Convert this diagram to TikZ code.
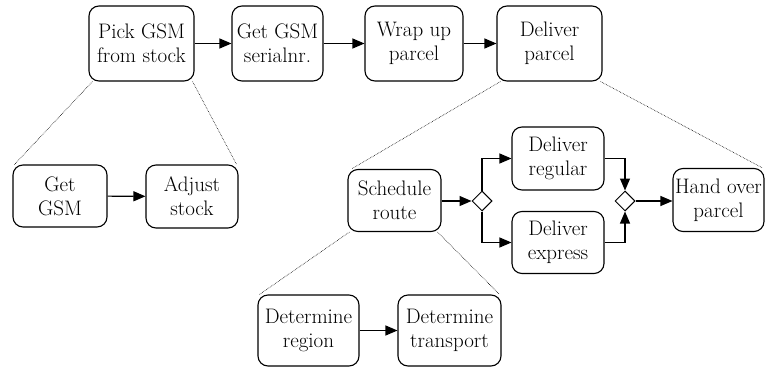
\documentclass[tikz,border=0pt]{standalone}
\usetikzlibrary{arrows.meta,shapes.geometric}
\begin{document}
\begin{tikzpicture}[x=1pt,y=-1pt,
  task/.style={draw,line width=1.1pt,rounded corners=10pt,align=center,inner sep=0pt,
    font=\rmfamily\fontsize{21}{24}\selectfont},
  gate/.style={draw,line width=1pt,diamond,minimum width=20pt,minimum height=20pt,inner sep=0pt},
  flow/.style={line width=1.1pt,-{Triangle[length=12pt,width=10pt]}},
  decomp/.style={line width=0.6pt,densely dotted}]
\useasboundingbox (0,0) rectangle (765,367);
\node[task,minimum width=105pt,minimum height=75pt] (pick) at (141.5,43.5) {Pick GSM\\from stock};
\node[task,minimum width=91pt,minimum height=75pt] (ser) at (277.5,43.5) {Get GSM\\serialnr.};
\node[task,minimum width=98pt,minimum height=75pt] (wrap) at (414,43.5) {Wrap up\\parcel};
\node[task,minimum width=105pt,minimum height=75pt] (del) at (549.5,43.5) {Deliver\\parcel};
\node[task,minimum width=94pt,minimum height=62pt] (get) at (60,196) {Get\\GSM};
\node[task,minimum width=92pt,minimum height=63pt] (adj) at (192,196.5) {Adjust\\stock};
\node[task,minimum width=93pt,minimum height=62pt] (sch) at (394.5,200.5) {Schedule\\route};
\node[task,minimum width=101pt,minimum height=71pt] (reg) at (308.5,330.5) {Determine\\region};
\node[task,minimum width=103pt,minimum height=71pt] (tra) at (449.5,330.5) {Determine\\transport};
\node[task,minimum width=92pt,minimum height=63pt] (dreg) at (558,158.5) {Deliver\\regular};
\node[task,minimum width=92pt,minimum height=62pt] (dexp) at (558,242.5) {Deliver\\express};
\node[task,minimum width=91pt,minimum height=63pt] (hand) at (718.5,200) {Hand over\\parcel};
\node[gate] (g1) at (482,201) {};
\node[gate] (g2) at (625,201) {};
% sequence flows
\draw[flow] (pick) -- (ser);
\draw[flow] (ser) -- (wrap);
\draw[flow] (wrap) -- (del);
\draw[flow] (get) -- (adj);
\draw[flow] (reg) -- (tra);
\draw[flow] (sch.east |- g1) -- (g1.west);
\draw[flow] (g1.north) |- (dreg.west);
\draw[flow] (g1.south) |- (dexp.west);
\draw[flow] (dreg.east) -| (g2.north);
\draw[flow] (dexp.east) -| (g2.south);
\draw[flow] (g2.east) -- (hand.west |- g2);
% decomposition lines
\draw[decomp] ([xshift=4pt]pick.south west) -- ([xshift=2pt]get.north west);
\draw[decomp] ([xshift=-2pt]pick.south east) -- ([xshift=-2pt]adj.north east);
\draw[decomp] ([xshift=4pt]del.south west) -- ([xshift=4pt]sch.north west);
\draw[decomp] ([xshift=-2pt]del.south east) -- ([xshift=-2pt]hand.north east);
\draw[decomp] ([xshift=2pt]sch.south west) -- ([xshift=2pt]reg.north west);
\draw[decomp] ([xshift=-4pt]sch.south east) -- ([xshift=-2pt]tra.north east);
\end{tikzpicture}
\end{document}
